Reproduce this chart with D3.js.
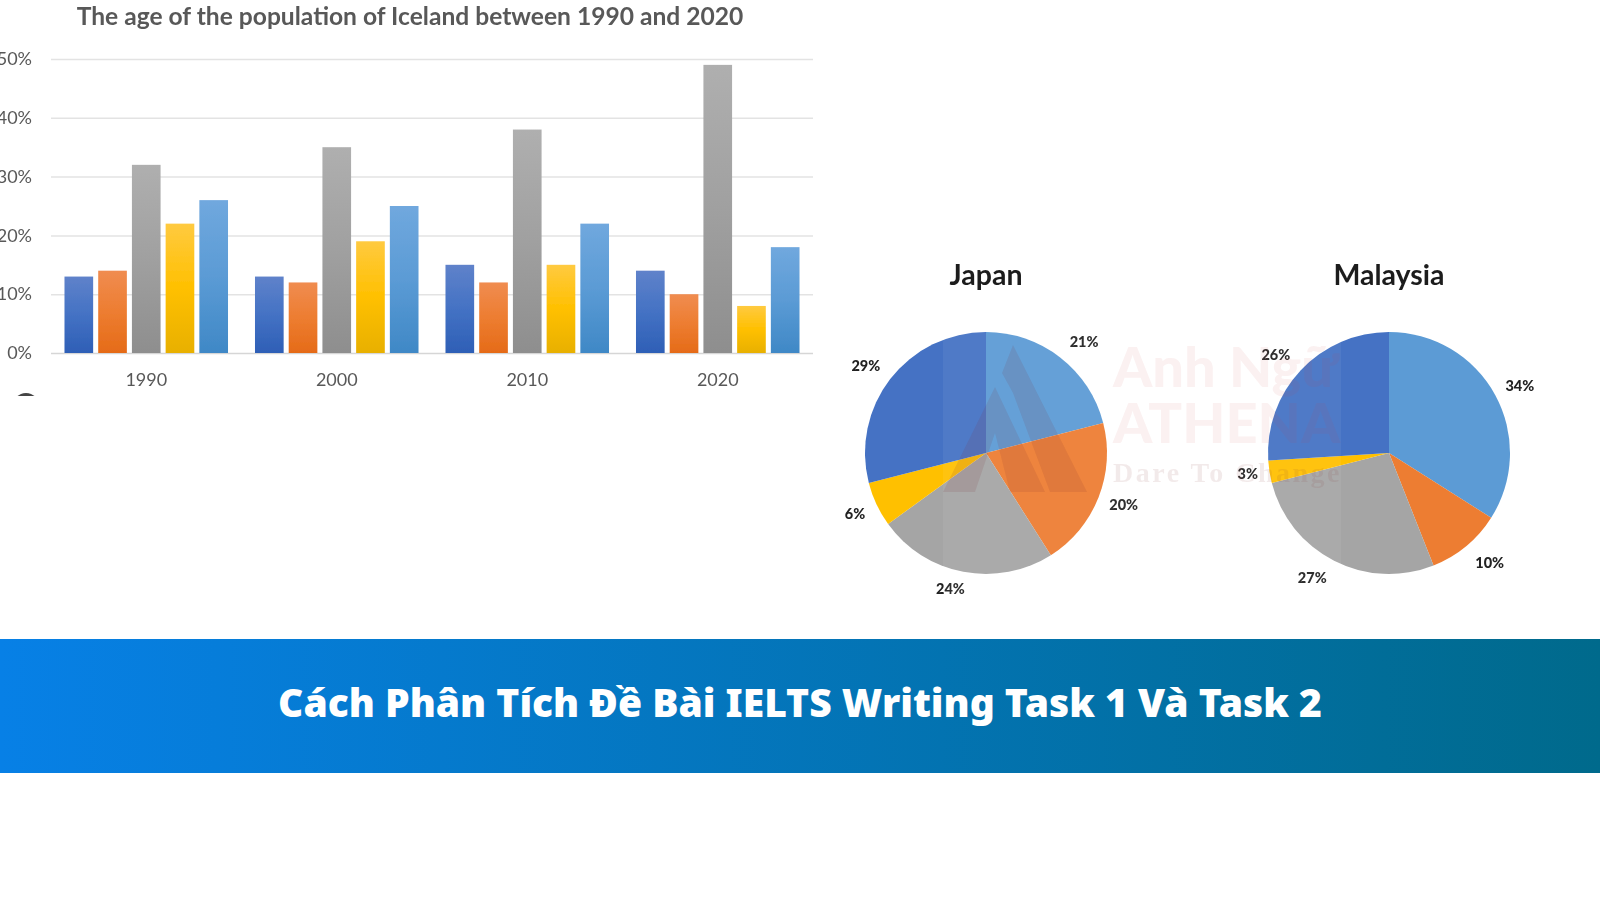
<!DOCTYPE html>
<html>
<head>
<meta charset="utf-8">
<script src="https://cdn.jsdelivr.net/npm/d3@7"></script>
<style>
  html, body { margin: 0; padding: 0; background: #fff; overflow: hidden; }
  svg { display: block; }
</style>
</head>
<body>
<script>
const width = 1600;
const height = 900;

// bar chart data, one array per colour, in order of the years
const years = ['1990', '2000', '2010', '2020'];
const blueBars = [13, 13, 15, 14];
const orangeBars = [14, 12, 12, 10];
const grayBars = [32, 35, 38, 49];
const yellowBars = [22, 19, 15, 8];
const lightBlueBars = [26, 25, 22, 18];
const yTicks = [0, 10, 20, 30, 40, 50];

// pie data, clockwise from the top
const japanValues = [21, 20, 24, 6, 29];
const malaysiaValues = [34, 10, 27, 3, 26];
const pieColors = ['#5b9bd5', '#ed7d31', '#a5a5a5', '#ffc000', '#4472c4'];

// hand nudges for the pie labels, they don't sit on a clean circle in the original
const japanNudge = [[8, 5], [1, -2], [-8, -8], [2, -2], [-4, 3]];
const malaysiaNudge = [[2, 4], [7, -3], [-10, -6], [4, -2], [-6, 3]];

const barSeries = [blueBars, orangeBars, grayBars, yellowBars, lightBlueBars];
const barStops = [
  ['#5f82ca', '#4472c4', '#2e5fb6'],
  ['#f08c50', '#ed7d31', '#e56b18'],
  ['#afafaf', '#a0a0a0', '#8e8e8e'],
  ['#ffca40', '#ffc000', '#e8b000'],
  ['#70a8de', '#5b9bd5', '#3f88c6']
];

const svg = d3.select('body').append('svg').attr('width', width).attr('height', height);
const defs = svg.append('defs');

defs.append('filter').attr('id', 'soft').append('feGaussianBlur').attr('stdDeviation', 0.7);

barStops.forEach((stops, i) => {
  const grad = defs.append('linearGradient').attr('id', 'bar' + i)
    .attr('x1', 0).attr('y1', 0).attr('x2', 0).attr('y2', 1);
  stops.forEach((c, j) => {
    grad.append('stop').attr('offset', j / 2).attr('stop-color', c);
  });
});

const bannerGrad = defs.append('linearGradient').attr('id', 'banner');
bannerGrad.append('stop').attr('offset', 0).attr('stop-color', '#0780e6');
bannerGrad.append('stop').attr('offset', 1).attr('stop-color', '#006a8c');

defs.append('clipPath').attr('id', 'markClip').append('rect')
  .attr('x', 943).attr('y', 320).attr('width', 398).attr('height', 280);
defs.append('clipPath').attr('id', 'chartClip').append('rect')
  .attr('x', 0).attr('y', 0).attr('width', 830).attr('height', 396);

// ---- bar chart ----
const chart = svg.append('g').attr('filter', 'url(#soft)').attr('clip-path', 'url(#chartClip)');

const x = d3.scaleBand().domain(years).range([51, 813]);
const inner = d3.scaleBand().domain(d3.range(barSeries.length)).range([0, x.bandwidth()])
  .paddingInner(0.15).paddingOuter(0.4);
const y = d3.scaleLinear().domain([0, 50]).range([353, 59]);

const yAxis = chart.append('g').attr('transform', 'translate(51,0)')
  .call(d3.axisLeft(y).tickValues(yTicks).tickSize(-762).tickPadding(19).tickFormat((d) => d + '%'));
yAxis.select('.domain').remove();
yAxis.selectAll('line').attr('stroke', (d) => (d === 0 ? '#d6d6d6' : '#e3e3e3')).attr('stroke-width', 1.5);
yAxis.selectAll('text').attr('fill', '#595959').attr('font-family', 'Lato').attr('font-size', 18);

const xAxis = chart.append('g').attr('transform', 'translate(0,353)')
  .call(d3.axisBottom(x).tickSize(0).tickPadding(20));
xAxis.select('.domain').remove();
xAxis.selectAll('text').attr('fill', '#595959').attr('font-family', 'Lato').attr('font-size', 18);

barSeries.forEach((values, i) => {
  chart.append('g').selectAll('rect').data(values).enter().append('rect')
    .attr('x', (d, j) => x(years[j]) + inner(i))
    .attr('y', (d) => y(d))
    .attr('width', inner.bandwidth())
    .attr('height', (d) => y(0) - y(d))
    .attr('fill', `url(#bar${i})`);
});

chart.append('text')
  .attr('x', 410).attr('y', 25)
  .attr('text-anchor', 'middle')
  .attr('font-family', 'Lato').attr('font-weight', 700).attr('font-size', 24.6)
  .attr('fill', '#595959')
  .text('The age of the population of Iceland between 1990 and 2020');

// bit of a circle cut off under the chart
chart.append('circle').attr('cx', 26).attr('cy', 406).attr('r', 13).attr('fill', '#444');

// ---- pies ----
const pie = d3.pie().sort(null);
const sliceArc = d3.arc().innerRadius(0).outerRadius(121);
const labelArc = d3.arc().innerRadius(147).outerRadius(147);

function drawPie(name, values, nudge, cx, cy) {
  const g = svg.append('g').attr('transform', `translate(${cx},${cy})`).attr('filter', 'url(#soft)');
  const slices = pie(values);
  g.selectAll('path').data(slices).enter().append('path')
    .attr('d', sliceArc)
    .attr('fill', (d, i) => pieColors[i]);
  g.selectAll('text.pct').data(slices).enter().append('text')
    .attr('class', 'pct')
    .attr('transform', (d, i) => {
      const c = labelArc.centroid(d);
      return `translate(${c[0] + nudge[i][0]},${c[1] + nudge[i][1]})`;
    })
    .attr('text-anchor', 'middle')
    .attr('dy', '0.35em')
    .attr('font-family', 'Lato').attr('font-weight', 900).attr('font-size', 14.5)
    .attr('fill', '#222')
    .text((d) => d.value + '%');
  g.append('text')
    .attr('y', -168)
    .attr('text-anchor', 'middle')
    .attr('font-family', 'Lato').attr('font-weight', 700).attr('font-size', 28.5)
    .attr('fill', '#1c1c1c')
    .text(name);
}

drawPie('Japan', japanValues, japanNudge, 986, 453);
drawPie('Malaysia', malaysiaValues, malaysiaNudge, 1389, 453);

// ---- watermark over the pies ----
const mark = svg.append('g').attr('clip-path', 'url(#markClip)');
mark.append('rect').attr('x', 943).attr('y', 320).attr('width', 398).attr('height', 280)
  .attr('fill', '#fff').attr('opacity', 0.06);
mark.append('path')
  .attr('d', 'M1013,345L1087,492L1050,492L1013,393L1002,373Z M995,387L1045,492L1010,492L995,433L975,492L943,492Z')
  .attr('fill', '#7a2a30').attr('opacity', 0.12);
mark.append('text').attr('x', 1113).attr('y', 387)
  .attr('font-family', 'Lato').attr('font-weight', 900).attr('font-size', 56)
  .attr('fill', '#c84040').attr('opacity', 0.07).text('Anh Ngữ');
mark.append('text').attr('x', 1113).attr('y', 443)
  .attr('font-family', 'Lato').attr('font-weight', 900).attr('font-size', 56)
  .attr('fill', '#c84040').attr('opacity', 0.07).text('ATHENA');
mark.append('text').attr('x', 1113).attr('y', 482)
  .attr('font-family', 'Liberation Serif').attr('font-weight', 700).attr('font-size', 28)
  .attr('letter-spacing', 2.5)
  .attr('fill', '#8a3a3a').attr('opacity', 0.1).text('Dare To Change');

// ---- banner ----
svg.append('rect').attr('x', 0).attr('y', 639).attr('width', width).attr('height', 134)
  .attr('fill', 'url(#banner)');
svg.append('text')
  .attr('x', 800).attr('y', 717)
  .attr('text-anchor', 'middle')
  .attr('font-family', 'Noto Sans').attr('font-weight', 900).attr('font-size', 39)
  .attr('fill', '#fff')
  .text('Cách Phân Tích Đề Bài IELTS Writing Task 1 Và Task 2');
</script>
</body>
</html>
